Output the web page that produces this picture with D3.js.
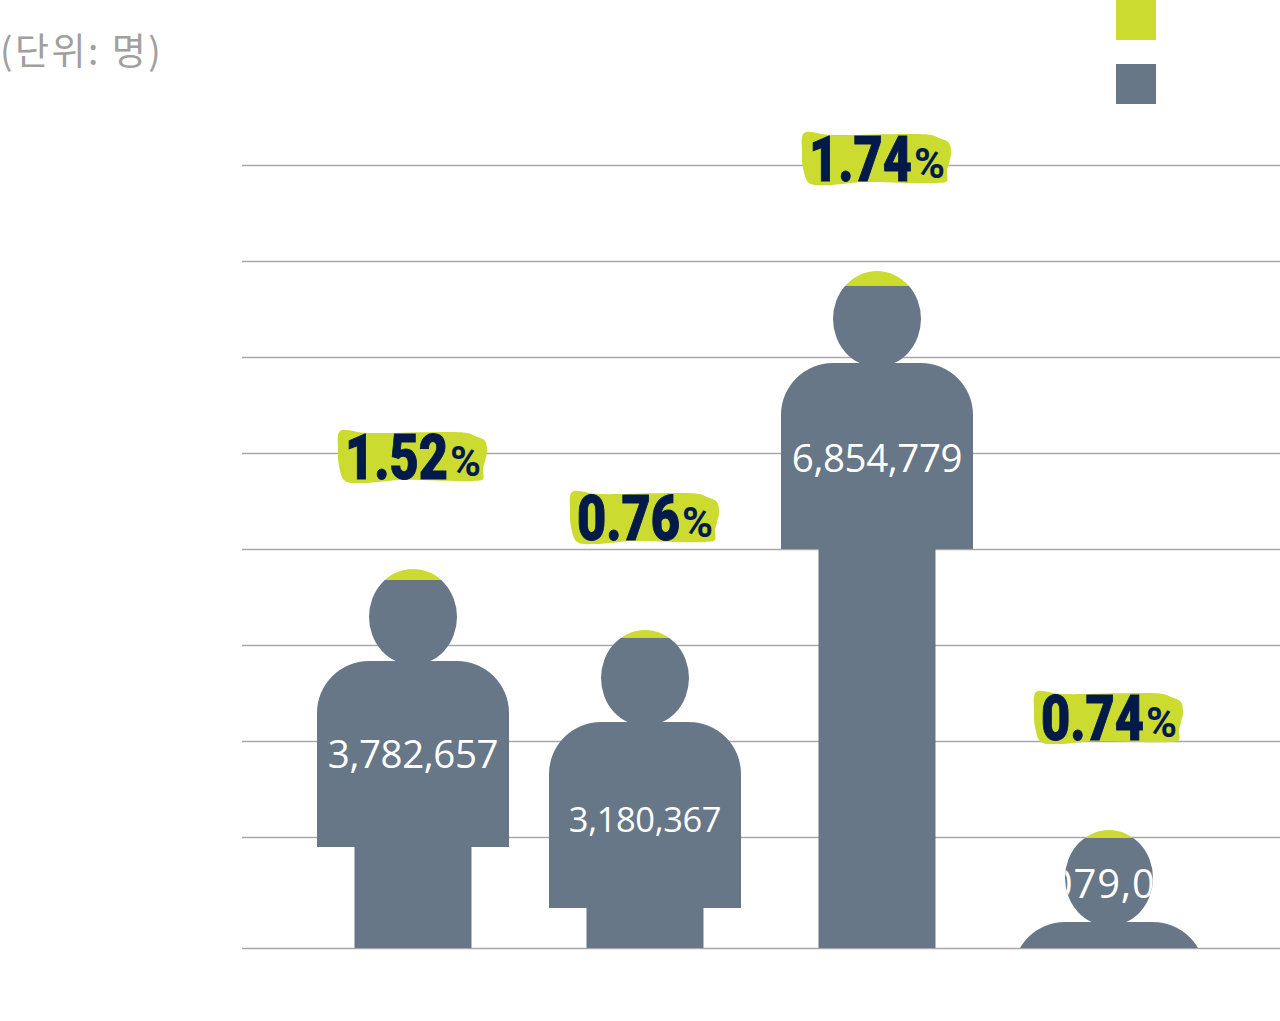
<!DOCTYPE html>
<html>
<head>
<meta charset="utf-8">
<script src="https://cdn.jsdelivr.net/npm/d3@7"></script>
<style>
  html, body { margin: 0; padding: 0; background: #fff; overflow: hidden; }
  svg { display: block; }
</style>
</head>
<body>
<svg id="chart" width="1280" height="1021"></svg>
<script>
// values
const totalLabels = ["3,782,657", "3,180,367", "6,854,779", "1,079,000"];
const shares = ["1.52", "0.76", "1.74", "0.74"];
// top of the figure and top of the grey part, in axis units
const figureTops = [3792000, 3156000, 6896000, 1073000];
const greyTops = [3677000, 3073000, 6740000, 991000];
const tickValues = [0, 1000000, 2000000, 3000000, 4000000, 5000000, 6000000, 7000000, 8000000];
const unitLabel = "(단위: 명)";

const green = "#cbdb2f";
const grey = "#677788";
const navy = "#011a4a";

// the source axis has a taller first step
const y = d3.scaleLinear()
    .domain(tickValues)
    .range([948, 837, 741, 645, 549, 453, 357, 261, 165]);
const x = d3.scalePoint()
    .domain(totalLabels)
    .range([413, 1109]);

const svg = d3.select("#chart");
const base = y(0);

// grid
const grid = svg.append("g")
    .attr("transform", "translate(242,0)")
    .call(d3.axisLeft(y).tickValues(tickValues).tickSize(-1038).tickFormat(""));
grid.select(".domain").remove();
grid.selectAll("line").attr("stroke", "#a8a8a8").attr("stroke-width", 1.4);

// unit
svg.append("text")
    .attr("x", 0).attr("y", 65)
    .attr("font-family", "'Noto Sans CJK KR'")
    .attr("font-weight", 400)
    .attr("font-size", 37)
    .attr("letter-spacing", 2.5)
    .attr("fill", "#a0a0a0")
    .text(unitLabel);

// legend
svg.append("rect").attr("x", 1116).attr("y", 0).attr("width", 40).attr("height", 40).attr("fill", green);
svg.append("rect").attr("x", 1116).attr("y", 64).attr("width", 40).attr("height", 40).attr("fill", grey);

function personPath(cx, top) {
    const p = d3.path();
    const bodyTop = top + 92, bodyBottom = top + 278, r = 52;
    p.moveTo(cx - 96, bodyBottom);
    p.lineTo(cx - 96, bodyTop + r);
    p.arcTo(cx - 96, bodyTop, cx - 96 + r, bodyTop, r);
    p.lineTo(cx + 96 - r, bodyTop);
    p.arcTo(cx + 96, bodyTop, cx + 96, bodyTop + r, r);
    p.lineTo(cx + 96, bodyBottom);
    p.lineTo(cx + 58.5, bodyBottom);
    p.lineTo(cx + 58.5, base + 400);
    p.lineTo(cx - 58.5, base + 400);
    p.lineTo(cx - 58.5, bodyBottom);
    p.closePath();
    // head is a little taller than wide
    const head = "M" + (cx - 44) + "," + (top + 48) +
        "A44,48 0 1,1 " + (cx + 44) + "," + (top + 48) +
        "A44,48 0 1,1 " + (cx - 44) + "," + (top + 48) + "Z";
    return p.toString() + head;
}

const labelStyle = [
    { dy: 199, dx: 0, size: 38.5, spacing: -0.4 },
    { dy: 202, dx: 0, size: 34.5, spacing: -0.4 },
    { dy: 201, dx: 0, size: 38.5, spacing: -0.4 },
    { dy: 68, dx: 0, size: 40, spacing: 0.8 }
];

const brushOutline = [[-73, -26], [-46, -24], [54, -24], [62, -21], [72, -16], [74, -5], [72, 4], [70, 12],
    [70, 22], [60, 24], [-13, 23], [-50, 26], [-68, 24], [-74, 9], [-75, -8]];
const brushLine = d3.line().curve(d3.curveCatmullRomClosed.alpha(0.5));

totalLabels.forEach(function(label, i) {
    const cx = x(label);
    const top = y(figureTops[i]);
    const greyTop = y(greyTops[i]);
    const clipId = "person" + i;

    svg.append("clipPath").attr("id", clipId)
        .append("path").attr("d", personPath(cx, top));

    const person = svg.append("g").attr("clip-path", "url(#" + clipId + ")");
    person.append("rect")
        .attr("x", cx - 100).attr("y", top)
        .attr("width", 200).attr("height", greyTop - top)
        .attr("fill", green);
    person.append("rect")
        .attr("x", cx - 100).attr("y", greyTop)
        .attr("width", 200).attr("height", base - greyTop)
        .attr("fill", grey);
    person.append("text")
        .attr("x", cx + labelStyle[i].dx).attr("y", top + labelStyle[i].dy)
        .attr("text-anchor", "middle")
        .attr("font-family", "'Open Sans'")
        .attr("letter-spacing", labelStyle[i].spacing)
        .attr("font-size", labelStyle[i].size)
        .attr("fill", "#fff")
        .text(label);

    // share tag, sits above the head
    const tag = svg.append("g").attr("transform", "translate(" + cx + "," + (top - 112) + ")");
    tag.append("path")
        .attr("d", brushLine(brushOutline))
        .attr("fill", green);
    // digits squeezed a bit, the source face is narrower than Roboto
    tag.append("text")
        .attr("transform", "translate(-68,22) scale(0.8,1)")
        .attr("font-family", "Roboto")
        .attr("font-weight", 900)
        .attr("font-size", 63)
        .attr("stroke", navy)
        .attr("stroke-width", 1)
        .attr("fill", navy)
        .text(shares[i]);
    tag.append("text")
        .attr("x", 37).attr("y", 19)
        .attr("font-family", "Roboto")
        .attr("font-weight", 700)
        .attr("font-size", 42)
        .attr("fill", navy)
        .text("%");
});
</script>
</body>
</html>
